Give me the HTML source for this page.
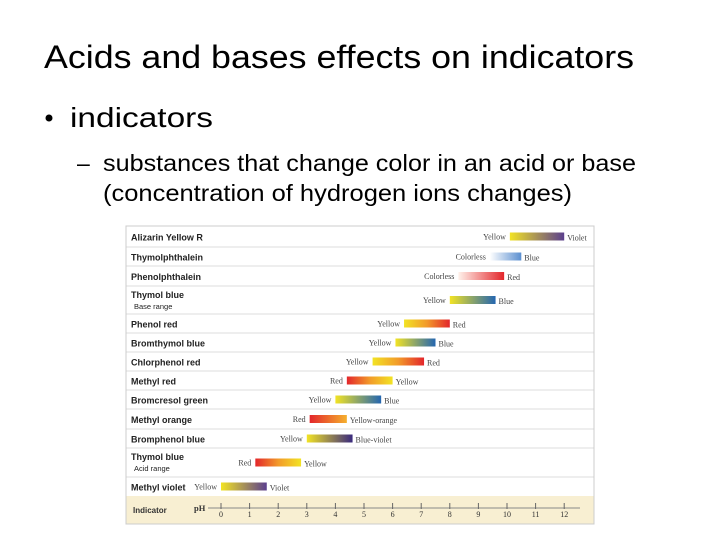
<!DOCTYPE html>
<html><head><meta charset="utf-8"><style>
html,body{margin:0;padding:0;background:#fff;}
svg{display:block;font-family:"Liberation Sans",sans-serif;}
</style></head><body>
<svg id="chart" width="720" height="540" viewBox="0 0 720 540">
<defs>
<linearGradient id="g-yv"><stop offset="0" stop-color="#f2e324"/><stop offset="1" stop-color="#5b3f8e"/></linearGradient>
<linearGradient id="g-cb"><stop offset="0" stop-color="#ffffff"/><stop offset="1" stop-color="#5b8fd0"/></linearGradient>
<linearGradient id="g-cr"><stop offset="0" stop-color="#fff1ea"/><stop offset="1" stop-color="#e3262b"/></linearGradient>
<linearGradient id="g-yb"><stop offset="0" stop-color="#f2e324"/><stop offset="1" stop-color="#2466b0"/></linearGradient>
<linearGradient id="g-yr"><stop offset="0" stop-color="#f2e324"/><stop offset="0.5" stop-color="#f29a2a"/><stop offset="1" stop-color="#e3262b"/></linearGradient>
<linearGradient id="g-ry"><stop offset="0" stop-color="#e3262b"/><stop offset="0.5" stop-color="#f29a2a"/><stop offset="1" stop-color="#f2e324"/></linearGradient>
<linearGradient id="g-ro"><stop offset="0" stop-color="#e3262b"/><stop offset="1" stop-color="#f5b02e"/></linearGradient>
<linearGradient id="g-ybv"><stop offset="0" stop-color="#f2e324"/><stop offset="1" stop-color="#3a2a7e"/></linearGradient>
</defs>
<text x="44" y="68" font-size="32" textLength="590" lengthAdjust="spacingAndGlyphs" fill="#000">Acids and bases effects on indicators</text>
<circle cx="49" cy="118" r="3.5" fill="#000"/>
<text x="70" y="127" font-size="28" textLength="143" lengthAdjust="spacingAndGlyphs">indicators</text>
<text x="77" y="171" font-size="23">–</text>
<text x="103" y="171" font-size="23" textLength="533" lengthAdjust="spacingAndGlyphs">substances that change color in an acid or base</text>
<text x="103" y="201" font-size="23" textLength="469" lengthAdjust="spacingAndGlyphs">(concentration of hydrogen ions changes)</text>
<rect x="126" y="226" width="468" height="298" fill="#fff" stroke="#ccc"/>
<rect x="126.5" y="496" width="467" height="27.5" fill="#f8efd2"/>
<g id="rows"></g>
<g id="axis"></g>
</svg>
<script>
const names=["Alizarin Yellow R","Thymolphthalein","Phenolphthalein","Thymol  blue","Phenol red","Bromthymol blue","Chlorphenol red","Methyl red","Bromcresol green","Methyl orange","Bromphenol blue","Thymol blue","Methyl violet"];
const subNames=["","","","Base range","","","","","","","","Acid range",""];
const lowPH=[10.1,9.4,8.3,8.0,6.4,6.1,5.3,4.4,4.0,3.1,3.0,1.2,0.0];
const highPH=[12.0,10.5,9.9,9.6,8.0,7.5,7.1,6.0,5.6,4.4,4.6,2.8,1.6];
const lowColor=["Yellow","Colorless","Colorless","Yellow","Yellow","Yellow","Yellow","Red","Yellow","Red","Yellow","Red","Yellow"];
const highColor=["Violet","Blue","Red","Blue","Red","Blue","Red","Yellow","Blue","Yellow-orange","Blue-violet","Yellow","Violet"];
const grads=["g-yv","g-cb","g-cr","g-yb","g-yr","g-yb","g-yr","g-ry","g-yb","g-ro","g-ybv","g-ry","g-yv"];
const ticks=[0,1,2,3,4,5,6,7,8,9,10,11,12];
const rowEdges=[226,247,266,286,314,333,352,371,390,409,429,448,477,496];
const NS="http://www.w3.org/2000/svg";
const x=p=>221+p*28.6;
function mk(tag,attrs,parent,txt){const e=document.createElementNS(NS,tag);for(const k in attrs)e.setAttribute(k,attrs[k]);if(txt!==undefined)e.textContent=txt;parent.appendChild(e);return e;}
const rows=document.getElementById('rows');
names.forEach((n,i)=>{
  const top=rowEdges[i],bot=rowEdges[i+1],mid=(top+bot)/2;
  const g=mk('g',{},rows);
  
  
  if(i>0){const l=mk('line',{x1:126.5,x2:593.5,y1:top,y2:top,stroke:'#ddd'},g);
    
    }
  const sub=subNames[i];
  const ny=sub?top+12:mid+4;
  const t=mk('text',{x:131,y:ny,'font-size':9,'font-weight':'bold',fill:'#222'},g,n);
  
  
  if(sub){const s=mk('text',{x:134,y:top+23,'font-size':7.5,fill:'#222'},g,sub);
    
    }
  const by=sub?mid-4:mid-4;
  const r=mk('rect',{x:x(lowPH[i]),y:by,width:x(highPH[i])-x(lowPH[i]),height:8,fill:'url(#'+grads[i]+')'},g);
  
  
  const a=mk('text',{x:x(lowPH[i])-4,y:by+7,'font-size':8,'font-family':'Liberation Serif, serif','text-anchor':'end',fill:'#444'},g,lowColor[i]);
  
  
  const b=mk('text',{x:x(highPH[i])+3,y:by+8,'font-size':8,'font-family':'Liberation Serif, serif',fill:'#444'},g,highColor[i]);
  
  
});
const ax=document.getElementById('axis');
const t1=mk('text',{x:133,y:513,'font-size':8,'font-weight':'bold',fill:'#333'},ax,'Indicator');


const t2=mk('text',{x:194,y:511,'font-size':8.5,'font-weight':'bold','font-family':'Liberation Serif, serif',fill:'#333'},ax,'pH');


const al=mk('line',{x1:208,x2:580,y1:508,y2:508,stroke:'#888'},ax);


ticks.forEach(v=>{
  const tk=mk('line',{x1:x(v),x2:x(v),y1:503,y2:509,stroke:'#666'},ax);
  
  
  const tl=mk('text',{x:x(v),y:517,'font-size':8,'font-family':'Liberation Serif, serif','text-anchor':'middle',fill:'#333'},ax,String(v));
  
  
});
</script>
</body></html>
